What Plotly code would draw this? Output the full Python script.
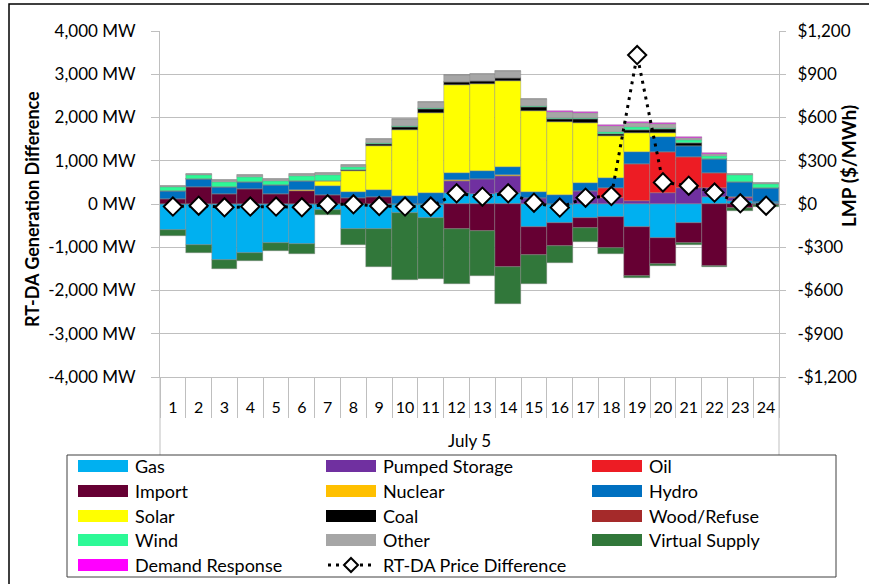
import plotly.graph_objects as go

# ---------------- data ----------------
hours = [str(h) for h in range(1, 25)]

gas = [-600, -950, -1290, -1125, -895, -935, -130, -585, -585, -200, -330, 247,
       231, 262, -540, -447, -332, -293, -524, -794, -447, 170, 60, 54]
pumped_storage = [0, 0, 0, 0, 0, 0, 0, 0, 0, 0, 0, 293,
                  339, 385, 131, 0, 308, 150, 70, 247, 362, 193, 70, 0]
oil = [0, 0, 0, 0, 0, 0, 0, 0, 0, 0, 0, 0,
       0, 0, 0, 0, 0, 230, 856, 964, 732, 347, 40, 0]
imports = [110, 385, 231, 339, 224, 300, 208, 131, 170, 0, 0, -586,
           -625, -1450, -640, -524, -231, -732, -1141, -594, -447, -1434, -100, -20]
nuclear = [10, 15, 0, 0, 15, 15, 10, 15, 0, 0, 0, 20,
           15, 15, 0, 0, 0, 0, 0, 0, 0, 0, 0, 0]
hydro = [170, 185, 170, 177, 200, 208, 193, 139, 154, 193, 247, 154,
         177, 193, 154, 200, 185, 216, 285, 347, 247, 324, 350, 308]
solar = [0, 0, 0, 0, 0, 0, 131, 478, 1018, 1519, 1866, 2028,
         2020, 1989, 1873, 1696, 1388, 980, 440, 92, 0, 0, 0, 0]
coal = [0, 0, 0, 0, 0, 0, 0, 15, 46, 77, 77, 77,
        62, 62, 77, 62, 77, 54, 62, 77, 70, 0, 0, 0]
wood_refuse = [0, 0, 0, 0, 0, 0, 0, 0, 0, 0, 0, 0,
               0, 0, 0, 0, 0, 0, 0, 0, 0, 0, 0, 0]
wind = [100, 85, 115, 115, 92, 123, 131, 77, 30, 23, 23, 10,
        10, 10, 31, 23, 38, 40, 77, 20, 60, 77, 140, 100]
other = [25, 30, 38, 35, 38, 38, 38, 54, 77, 154, 154, 146,
         154, 170, 154, 146, 100, 131, 92, 92, 60, 46, 30, 15]
virtual_supply = [-140, -180, -215, -190, -185, -230, -120, -360, -875, -1557, -1411, -1272,
                  -1041, -871, -678, -386, -308, -131, -39, -46, -55, -31, -70, -50]
demand_response = [0, 0, 0, 0, 0, 0, 0, 0, 0, 0, 0, 0,
                   0, 0, 0, 15, 23, 15, 23, 23, 20, 15, 15, 15]

price_diff = [-18, -12, -23, -18, -18, -23, -2, -2, -14, -18, -18, 74,
              51, 74, 9, -25, 44, 55, 1033, 150, 127, 79, 5, -12]

series_names = ["Gas", "Pumped Storage", "Oil", "Import", "Nuclear", "Hydro",
                "Solar", "Coal", "Wood/Refuse", "Wind", "Other",
                "Virtual Supply", "Demand Response"]
series_values = [gas, pumped_storage, oil, imports, nuclear, hydro, solar, coal,
                 wood_refuse, wind, other, virtual_supply, demand_response]
series_colors = ["#00B0F0", "#7030A0", "#ED1C24", "#660033", "#FFC000", "#0070C0",
                 "#FFFF00", "#000000", "#A52A2A", "#2CF996", "#A6A6A6",
                 "#31773A", "#FF00FF"]
price_name = "RT-DA Price Difference"

mw_ticks = [-4000, -3000, -2000, -1000, 0, 1000, 2000, 3000, 4000]
mw_labels = ["-4,000 MW", "-3,000 MW", "-2,000 MW", "-1,000 MW", "0 MW",
             "1,000 MW", "2,000 MW", "3,000 MW", "4,000 MW"]
lmp_ticks = [-1200, -900, -600, -300, 0, 300, 600, 900, 1200]
lmp_labels = ["-$1,200", "-$900", "-$600", "-$300", "$0",
              "$300", "$600", "$900", "$1,200"]

# ---------------- figure ----------------
FONT = "Lato"
GRID = "#BFBFBF"
W, H = 869, 584
L, R, T, B = 160, 90, 31, 207
PW, PH = W - L - R, H - T - B


def px(x):
    return (x - L) / PW


def py(y):
    return (H - B - y) / PH


fig = go.Figure()
for name, vals, col in zip(series_names, series_values, series_colors):
    fig.add_trace(go.Bar(
        x=hours, y=vals, name=name, marker_color=col,
        marker_line=dict(width=0.5, color="rgba(130,130,130,0.8)"),
        showlegend=False,
    ))

fig.add_trace(go.Scatter(
    x=hours, y=price_diff, name=price_name, yaxis="y2", mode="lines+markers",
    line=dict(color="black", width=3, dash="3px,5px"),
    marker=dict(symbol="diamond", size=14, color="white",
                line=dict(color="black", width=2)),
    showlegend=False,
))

shapes = []
annotations = []

# axis frame lines extending down to the category group box
for xp in (0, 1):
    shapes.append(dict(type="line", xref="paper", yref="paper",
                       x0=xp, x1=xp, y0=py(H - B), y1=py(455),
                       line=dict(color=GRID, width=1)))

# outer chart border
shapes.append(dict(type="rect", xref="paper", yref="paper",
                   x0=px(9), x1=px(W + 20), y0=py(4), y1=py(H + 20),
                   line=dict(color="black", width=1.5)))

# legend box
shapes.append(dict(type="rect", xref="paper", yref="paper",
                   x0=px(67), x1=px(836), y0=py(455), y1=py(577),
                   line=dict(color="#404040", width=1), fillcolor="white"))

col_x = [78, 326, 592]
row_y = [466, 491, 516, 540, 565]
entries = list(zip(series_names, series_colors)) + [(price_name, None)]
for i, (name, col) in enumerate(entries):
    r, c = divmod(i, 3)
    x0 = col_x[c]
    yc = row_y[r]
    if col is not None:
        shapes.append(dict(type="rect", xref="paper", yref="paper",
                           x0=px(x0), x1=px(x0 + 50), y0=py(yc - 6), y1=py(yc + 6),
                           line=dict(width=0), fillcolor=col))
    else:
        shapes.append(dict(type="line", xref="paper", yref="paper",
                           x0=px(x0 + 2), x1=px(x0 + 50), y0=py(yc), y1=py(yc),
                           line=dict(color="black", width=3, dash="3px,5px")))
        shapes.append(dict(type="path", xref="paper", yref="paper",
                           xsizemode="pixel", ysizemode="pixel",
                           xanchor=px(x0 + 25), yanchor=py(yc),
                           path="M0,7 L7,0 L0,-7 L-7,0 Z",
                           fillcolor="white", line=dict(color="black", width=2)))
    annotations.append(dict(text=name, xref="paper", yref="paper",
                            x=px(x0 + 55), y=py(yc), xanchor="left", yanchor="middle",
                            showarrow=False, font=dict(family=FONT, size=18, color="black")))

# axis titles
annotations.append(dict(text="<b>RT-DA Generation Difference</b>", xref="paper", yref="paper",
                        x=px(32), y=py(209), xanchor="center", yanchor="middle",
                        textangle=-90, showarrow=False,
                        font=dict(family=FONT, size=18, color="black")))
annotations.append(dict(text="<b>LMP ($/MWh)</b>", xref="paper", yref="paper",
                        x=px(848), y=py(166), xanchor="center", yanchor="middle",
                        textangle=-90, showarrow=False,
                        font=dict(family=FONT, size=19, color="black")))
annotations.append(dict(text="July 5", xref="paper", yref="paper",
                        x=0.5, y=py(440), xanchor="center", yanchor="middle",
                        showarrow=False,
                        font=dict(family=FONT, size=17, color="black")))

fig.update_layout(
    width=W, height=H,
    margin=dict(l=L, r=R, t=T, b=B, pad=0, autoexpand=False),
    paper_bgcolor="white", plot_bgcolor="white",
    barmode="relative", bargap=0,
    font=dict(family=FONT, color="black"),
    showlegend=False,
    xaxis=dict(type="category", range=[-0.5, 23.5], tickson="boundaries",
               ticks="outside", ticklen=40, tickangle=0,
               tickcolor=GRID, tickwidth=1, showline=True, linecolor=GRID,
               showgrid=False, tickfont=dict(size=16, family=FONT),
               ticklabelstandoff=16),
    yaxis=dict(range=[-4000, 4000], tickvals=mw_ticks, ticktext=mw_labels,
               showgrid=True, gridcolor=GRID, gridwidth=1, zeroline=False,
               ticks="outside", ticklen=8, tickcolor=GRID, showline=True,
               linecolor=GRID, tickfont=dict(size=17, family=FONT),
               ticklabelstandoff=12),
    yaxis2=dict(range=[-1200, 1200], tickvals=lmp_ticks, ticktext=lmp_labels,
                overlaying="y", side="right", showgrid=False, zeroline=False,
                ticks="outside", ticklen=6, tickcolor=GRID, showline=True,
                linecolor=GRID, tickfont=dict(size=17, family=FONT),
                ticklabelstandoff=8),
    shapes=shapes, annotations=annotations,
)

fig.write_html("out.html", config={"displayModeBar": False},
               post_script="document.body.style.margin='0';document.body.style.overflow='hidden';")
